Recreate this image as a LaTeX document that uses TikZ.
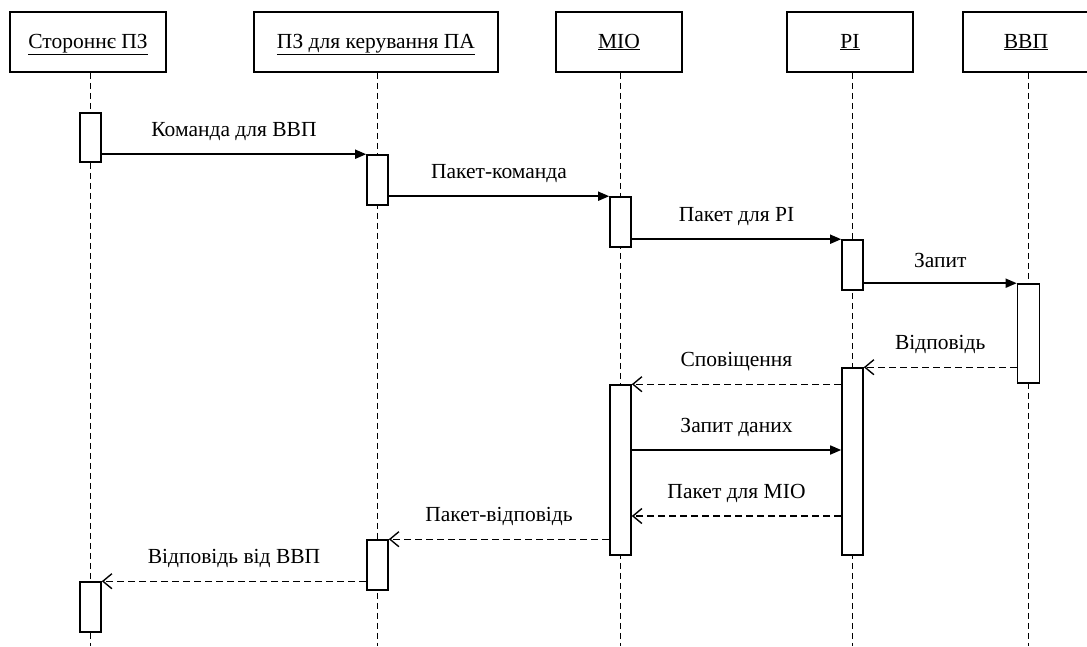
\documentclass[tikz,border=0pt]{standalone}
\usepackage{fontspec}
\setmainfont{Liberation Serif}
\usetikzlibrary{arrows.meta}
\begin{document}
\begin{tikzpicture}[x=1pt,y=-1pt,
  lbl/.style={font=\fontsize{21.5}{24}\selectfont},
  head/.style={draw,line width=1.6pt,minimum height=60pt,inner sep=0pt,lbl},
  act/.style={draw,line width=1.6pt,fill=white,minimum width=21pt,inner sep=0pt},
  life/.style={line width=1.3pt,dash pattern=on 6pt off 4pt},
  call/.style={line width=1.6pt,-{Triangle[length=11pt,width=9pt]}},
  reply/.style={line width=1.4pt,dash pattern=on 7pt off 4pt,-{Straight Barb[length=9pt,width=15pt]}},
  txt/.style={lbl,midway,yshift=23pt}]
\useasboundingbox (0,0) rectangle (1087,646);

% participants (underlined titles, baseline a little below the box centre)
\newcommand\headtitle[1]{\raisebox{-6pt}[0pt][0pt]{\underline{#1}}}
\node[head,minimum width=156pt] (p1) at (88,42) {\headtitle{Стороннє ПЗ}};
\node[head,minimum width=244pt] (p2) at (376,42) {\headtitle{ПЗ для керування ПА}};
\node[head,minimum width=126pt] (p3) at (619,42) {\headtitle{МІО}};
\node[head,minimum width=126pt] (p4) at (850,42) {\headtitle{РІ}};
\node[head,minimum width=126pt] (p5) at (1026,42) {\headtitle{ВВП}};

% lifelines
\foreach \p/\x in {p1/90.5,p2/377.5,p3/620.5,p4/852.5,p5/1028.5}
  \draw[life] (\p.south -| \x,0) -- (\x,646);

% activation bars
\node[act,minimum height=49pt] (a1) at (90.5,137.5) {};
\node[act,minimum height=50pt] (a2) at (377.5,180) {};
\node[act,minimum height=50pt] (a3) at (620.5,222) {};
\node[act,minimum height=50pt] (a4) at (852.5,265) {};
\node[act,minimum height=99pt,minimum width=22pt] (a5) at (1028.5,333.5) {};
\node[act,minimum height=187pt] (a6) at (852.5,461.5) {};
\node[act,minimum height=170pt] (a7) at (620.5,470) {};
\node[act,minimum height=50pt] (a8) at (377.5,565) {};
\node[act,minimum height=50pt] (a9) at (90.5,607) {};

\coordinate (m7) at (0,450);
\coordinate (m8) at (0,516);

% messages
\draw[call] (a1.east |- a2.north west) -- (a2.north west) node[txt] {Команда для ВВП};
\draw[call] (a2.east |- a3.north west) -- (a3.north west) node[txt] {Пакет-команда};
\draw[call] (a3.east |- a4.north west) -- (a4.north west) node[txt] {Пакет для РІ};
\draw[call] (a4.east |- a5.north west) -- (a5.north west) node[txt] {Запит};
\draw[reply] (a5.west |- a6.north east) -- (a6.north east) node[txt] {Відповідь};
\draw[reply] (a6.west |- a7.north east) -- (a7.north east) node[txt] {Сповіщення};
\draw[call] (a7.east |- m7) -- (a6.west |- m7) node[txt] {Запит даних};
\draw[reply] (a6.west |- m8) -- (a7.east |- m8) node[txt] {Пакет для МІО};
\draw[reply] (a7.west |- a8.north east) -- (a8.north east) node[txt] {Пакет-відповідь};
\draw[reply] (a8.west |- a9.north east) -- (a9.north east) node[txt] {Відповідь від ВВП};
\end{tikzpicture}
\end{document}
